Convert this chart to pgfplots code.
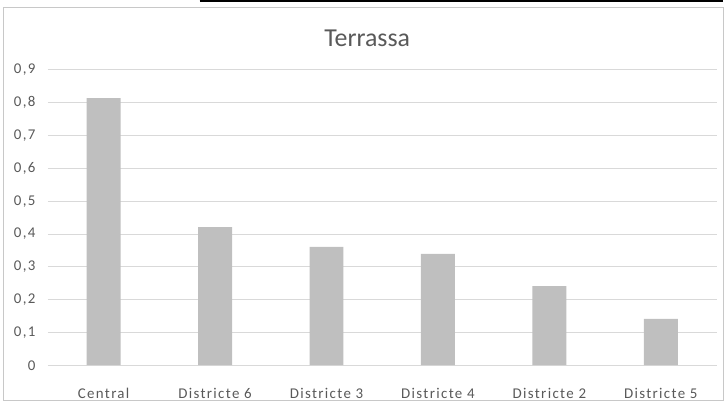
\documentclass[border=0pt]{standalone}
\usepackage{pgfplots}
\pgfplotsset{compat=1.18}
\usepackage{fontspec}
\setmainfont{Carlito}
\newfontfamily\catfont[LetterSpace=9]{Carlito}
\definecolor{txtc}{HTML}{595959}
\definecolor{gridc}{HTML}{D9D9D9}
\definecolor{barc}{HTML}{BFBFBF}
\definecolor{framec}{HTML}{C8C8C8}
\begin{document}
\begin{tikzpicture}
\path (0,0) rectangle (724bp,403bp);
\draw[framec, line width=1bp] (4bp,1.7bp) rectangle (725bp,395bp);
\draw[black, line width=1.6bp] (200bp,402.2bp) -- (724bp,402.2bp);
\node[text=txtc, font=\fontsize{26}{30}\selectfont, anchor=base] at (368bp,356.3bp) {Terrassa};
\begin{axis}[
  at={(48bp,37bp)}, anchor=south west,
  scale only axis, width=670bp, height=296bp,
  xmin=-0.5, xmax=5.5, ymin=0, ymax=0.9,
  axis line style={draw=none},
  ymajorgrids, grid style={draw=gridc, line width=0.8bp},
  ytick={0,0.1,0.2,0.3,0.4,0.5,0.6,0.7,0.8,0.9},
  xtick={0,1,2,3,4,5},
  xticklabels={Central,Districte 6,Districte 3,Districte 4,Districte 2,Districte 5},
  major tick length=0pt,
  tick label style={text=txtc, font=\catfont\fontsize{15}{18}\selectfont},
  xticklabel style={anchor=base, yshift=-33.3bp},
  yticklabel style={xshift=-9bp, /pgf/number format/.cd, fixed, precision=1, use comma, assume math mode=true},
  ybar, bar width=34bp,
]
\addplot[fill=barc, draw=none] coordinates {(0,0.814) (1,0.421) (2,0.361) (3,0.339) (4,0.241) (5,0.141)};
\end{axis}
\end{tikzpicture}
\end{document}
